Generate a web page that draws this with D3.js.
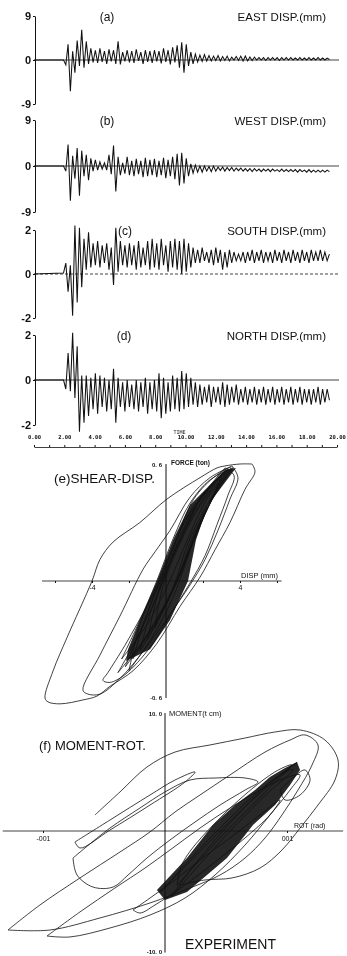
<!DOCTYPE html>
<html>
<head>
<meta charset="utf-8">
<script src="https://cdn.jsdelivr.net/npm/d3@7"></script>
<style>
  body { margin: 0; background: #fff; }
  svg { display: block; font-family: "Liberation Sans", Arial, sans-serif; will-change: transform; }
</style>
</head>
<body>
<svg id="chart" width="347" height="956"></svg>
<script>
// time histories: alternating peak values, one every sampleStep seconds from sampleStart
const sampleStart = 1.95;
const sampleStep = 0.15;

const eastDisp = [
  0.0, -1.0, 3.2, -6.4, 1.8, -2.6, 4.0, -1.2, 6.2, -1.6,
  3.8, -0.8, 2.4, -0.5, 2.0, -0.6, 2.4, -0.4, 1.8, -0.8,
  2.2, -0.3, 2.0, -0.8, 3.8, -0.9, 1.6, -0.3, 2.0, -0.5,
  1.8, -0.6, 2.2, -0.2, 1.6, -0.8, 2.0, -0.4, 1.8, -0.6,
  2.0, -0.3, 1.8, -0.7, 2.4, -0.4, 2.0, -0.9, 2.6, -0.5,
  3.0, -1.6, 3.6, -2.6, 3.2, -1.2, 1.6, -0.8, 1.2, -0.4,
  1.0, -0.3, 1.1, -0.2, 0.9, -0.2, 0.8, -0.1, 0.9, -0.2,
  0.7, -0.1, 0.8, -0.2, 0.6, 0.0, 0.7, -0.1, 0.8, -0.2,
  0.8, -0.2, 0.6, -0.1, 0.6, 0.0, 0.5, 0.0, 0.5, -0.1,
  0.5, 0.0, 0.5, 0.0, 0.5, -0.1, 0.5, 0.0, 0.5, 0.0,
  0.5, 0.0, 0.4, 0.0, 0.5, 0.0, 0.4, 0.0, 0.5, 0.0,
  0.4, 0.0, 0.5, 0.0, 0.4, 0.0, 0.4, 0.1
];

const westDisp = [
  0.0, -1.0, 4.2, -6.8, 2.0, -2.5, 3.5, -5.8, 3.0, -2.0,
  2.2, -2.8, 1.5, -1.0, 1.2, -0.8, 0.8, -0.6, 0.6, -0.8,
  2.2, -1.6, 4.0, -5.0, 1.8, -1.8, 0.6, -1.5, 1.8, -1.8,
  1.0, -2.0, 1.4, -1.6, 1.0, -2.2, 1.6, -2.0, 1.2, -1.8,
  1.4, -2.2, 1.0, -1.8, 1.6, -2.4, 1.2, -2.0, 1.8, -2.6,
  2.4, -3.8, 2.6, -3.4, 1.5, -2.0, 0.4, -1.4, 0.2, -1.2,
  0.0, -1.2, 0.0, -1.0, -0.1, -1.1, 0.0, -1.0, -0.2, -0.9,
  -0.2, -1.0, -0.3, -0.9, -0.3, -1.0, -0.4, -0.9, -0.4, -1.0,
  -0.5, -1.0, -0.5, -1.1, -0.5, -1.0, -0.6, -1.1, -0.6, -1.0,
  -0.6, -1.1, -0.6, -1.0, -0.7, -1.1, -0.6, -1.1, -0.7, -1.1,
  -0.7, -1.1, -0.7, -1.2, -0.7, -1.1, -0.8, -1.2, -0.7, -1.2,
  -0.8, -1.2, -0.8, -1.2, -0.8, -1.2, -0.8, -1.1
];

const southDisp = [
  0.05, 0.5, -0.8, 0.4, -1.9, 2.2, -1.3, 2.1, -0.6, 1.6,
  0.2, 1.9, 0.3, 1.4, 0.4, 1.5, 0.3, 1.3, 0.5, 1.4,
  0.2, 1.2, -0.5, 2.1, 0.1, 1.5, 0.4, 1.3, 0.3, 1.4,
  0.4, 1.3, 0.2, 1.5, 0.3, 1.2, 0.4, 1.5, 0.2, 1.6,
  0.3, 1.4, 0.2, 1.6, 0.4, 1.3, 0.1, 1.5, 0.3, 1.6,
  0.2, 1.5, 0.0, 1.6, 0.1, 1.4, 0.3, 1.2, 0.5, 1.1,
  0.5, 1.2, 0.6, 1.0, 0.5, 1.1, 0.4, 1.2, 0.5, 1.1,
  0.2, 1.0, 0.3, 1.1, 0.5, 1.0, 0.6, 0.9, 0.6, 1.0,
  0.5, 1.0, 0.6, 1.1, 0.5, 1.0, 0.6, 1.1, 0.5, 1.0,
  0.6, 1.0, 0.5, 1.1, 0.6, 1.0, 0.5, 1.1, 0.6, 1.0,
  0.5, 1.1, 0.6, 1.0, 0.5, 1.1, 0.6, 1.0, 0.5, 1.1,
  0.6, 1.0, 0.6, 1.1, 0.6, 1.0, 0.6, 0.9
];

const northDisp = [
  0.0, -0.4, 1.2, -0.5, 2.1, -0.8, 1.5, -2.3, 0.2, -1.9,
  0.2, -1.6, 0.1, -1.3, 0.3, -1.5, 0.2, -1.2, 0.1, -1.4,
  0.0, -1.3, 0.5, -1.9, 0.1, -1.2, -0.1, -1.4, 0.0, -1.2,
  -0.2, -1.3, 0.0, -1.4, -0.1, -1.2, 0.1, -1.5, -0.1, -1.3,
  0.0, -1.4, 0.3, -1.7, 0.1, -1.5, -0.1, -1.4, 0.2, -1.3,
  0.1, -1.4, 0.4, -1.3, 0.3, -1.2, 0.1, -1.1, -0.1, -1.2,
  -0.2, -1.1, -0.3, -1.0, -0.2, -1.2, -0.3, -1.0, -0.3, -1.1,
  -0.1, -1.2, -0.2, -1.1, -0.3, -1.0, -0.2, -1.1, -0.4, -1.0,
  -0.3, -1.1, -0.4, -1.0, -0.3, -1.1, -0.4, -1.0, -0.3, -1.1,
  -0.4, -1.0, -0.3, -1.1, -0.4, -1.0, -0.3, -1.1, -0.4, -1.0,
  -0.3, -1.1, -0.4, -1.0, -0.3, -1.1, -0.4, -1.0, -0.4, -1.1,
  -0.4, -1.0, -0.3, -1.1, -0.4, -1.0, -0.4, -0.9
];

const timeTicks = [0, 1, 2, 3, 4, 5, 6, 7, 8, 9, 10, 11, 12, 13, 14, 15, 16, 17, 18, 19, 20];
const timeLabels = ['0.00', '2.00', '4.00', '6.00', '8.00', '10.00', '12.00', '14.00', '16.00', '18.00', '20.00'];

// (e) shear force (ton) vs displacement (mm)
const shearOuter = [[4.65,0.60],[4.0,0.60],[3.19,0.59],[2.76,0.58],[1.84,0.53],[0.05,0.42],[-1.41,0.30],[-2.86,0.20],[-3.57,0.11],[-4.0,0.0],[-5.35,-0.29],[-6.1,-0.46],[-6.54,-0.60],[-6.38,-0.62],[-5.73,-0.63],[-4.49,-0.61],[-3.73,-0.59],[-3.03,-0.54],[-1.78,-0.46],[-0.49,-0.32],[0.76,-0.13],[1.84,0.02],[2.65,0.16],[3.46,0.30],[4.27,0.47],[4.81,0.56],[4.65,0.60]];
const shearMiddle = [[3.57,0.59],[2.38,0.53],[1.30,0.43],[0.22,0.26],[-0.59,0.15],[-1.24,0.06],[-2.49,-0.18],[-3.57,-0.38],[-4.49,-0.56],[-4.22,-0.58],[-3.57,-0.58],[-2.49,-0.50],[-1.14,-0.35],[0.22,-0.17],[1.30,-0.02],[2.11,0.11],[2.81,0.26],[3.46,0.42],[3.89,0.53],[3.57,0.59]];
const shearInner = [[3.19,0.58],[1.84,0.42],[1.03,0.26],[0.05,0.06],[-0.86,-0.10],[-2.22,-0.33],[-3.14,-0.47],[-3.41,-0.51],[-3.03,-0.52],[-2.22,-0.48],[-0.86,-0.34],[0.32,-0.16],[1.30,-0.01],[2.11,0.13],[2.76,0.29],[3.35,0.44],[3.68,0.54],[3.19,0.58]];
const shearBand = [[3.19,0.57],[1.30,0.39],[0.38,0.21],[-0.49,0.0],[-1.41,-0.20],[-2.05,-0.35],[-2.16,-0.41],[-0.86,-0.35],[0.22,-0.20],[1.19,0.0],[1.62,0.21],[2.27,0.39],[3.78,0.58]];
const shearCoreLoops = [
  [[-2.6,-0.47],[-1.2,-0.30],[0.3,-0.05],[1.3,0.22],[2.6,0.45],[3.6,0.58],[2.8,0.52],[1.6,0.38],[0.6,0.18],[-0.4,-0.06],[-1.6,-0.30],[-2.6,-0.47]],
  [[-2.2,-0.44],[-0.9,-0.26],[0.5,-0.02],[1.5,0.24],[2.8,0.47],[3.4,0.57],[2.5,0.50],[1.2,0.34],[0.2,0.12],[-0.8,-0.12],[-1.5,-0.28],[-2.2,-0.44]],
  [[-1.8,-0.40],[-0.5,-0.20],[0.7,0.02],[1.7,0.27],[2.7,0.46],[3.2,0.56],[2.2,0.46],[1.0,0.30],[0.0,0.08],[-1.0,-0.16],[-1.8,-0.40]],
  [[-1.4,-0.36],[-0.2,-0.16],[0.9,0.06],[1.8,0.29],[2.6,0.45],[3.0,0.54],[2.0,0.44],[0.9,0.26],[-0.1,0.02],[-0.9,-0.18],[-1.4,-0.36]],
  [[-1.0,-0.30],[0.1,-0.10],[1.0,0.10],[1.9,0.30],[2.9,0.52],[2.0,0.42],[0.7,0.20],[-0.3,-0.02],[-1.0,-0.30]],
  [[-2.4,-0.40],[-1.0,-0.22],[0.2,0.00],[1.1,0.20],[2.2,0.42],[3.3,0.56],[2.4,0.52],[1.3,0.40],[0.4,0.22],[-0.5,0.00],[-1.5,-0.22],[-2.4,-0.40]],
  [[-0.6,-0.24],[0.4,-0.04],[1.2,0.14],[2.0,0.32],[2.8,0.50],[1.8,0.38],[0.6,0.16],[-0.2,-0.04],[-0.6,-0.24]],
  [[-2.0,-0.46],[-0.7,-0.28],[0.4,-0.08],[1.4,0.18],[2.4,0.40],[3.5,0.58],[2.7,0.54],[1.5,0.42],[0.5,0.20],[-0.6,-0.04],[-1.4,-0.22],[-2.0,-0.46]]
];
const shearTicks = [-6, -4, -2, 2, 4, 6];

// (f) moment (t cm) vs rotation (rad)
const momentOuter = [[-0.01287,-8.39],[-0.01025,-6.27],[-0.00697,-3.98],[-0.00369,-1.78],[-0.00123,-0.08],[0.00082,1.61],[0.00287,3.05],[0.00533,4.75],[0.0082,6.69],[0.01025,7.71],[0.01148,8.14],[0.01254,7.29],[0.01205,5.59],[0.0109,3.47],[0.00959,1.36],[0.0082,-0.59],[0.00656,-2.29],[0.00451,-3.73],[0.00205,-4.83],[-0.00123,-6.10],[-0.00533,-7.37],[-0.00943,-8.39],[-0.01287,-8.39]];
const momentSecond = [[-0.00967,-8.90],[-0.00697,-6.86],[-0.0041,-4.83],[-0.00164,-3.14],[0.00041,-1.61],[0.00287,0.25],[0.00533,1.95],[0.00779,3.47],[0.00984,4.49],[0.01107,4.75],[0.01025,3.47],[0.00861,1.36],[0.00656,-1.19],[0.0041,-3.73],[0.00164,-5.68],[-0.00123,-7.12],[-0.00451,-8.22],[-0.00779,-8.98],[-0.00967,-8.90]];
const momentSpike = [[-0.00738,-0.93],[-0.00451,0.93],[-0.00123,3.05],[0.00082,4.32],[0.00246,5.0],[0.00164,4.15],[-0.00123,2.2],[-0.00451,0.08],[-0.00697,-1.44],[-0.00738,-0.93]];
const momentFlat = [[-0.00754,-2.29],[-0.00721,-3.73],[-0.0059,-4.75],[-0.00426,-4.75],[-0.00303,-3.73],[-0.00148,-2.29],[0.00041,-0.76],[0.00246,0.76],[0.00451,2.20],[0.00656,3.47],[0.00762,4.15],[0.00656,4.49],[0.0041,4.49],[0.00205,4.32],[0.0,3.31],[-0.00205,1.95],[-0.00451,0.25],[-0.00656,-1.44],[-0.00754,-2.29]];
const momentUpper = [[-0.00574,1.36],[-0.00369,3.31],[-0.00148,5.42],[0.00082,6.69],[0.00369,7.29],[0.00656,7.88],[0.00902,8.39],[0.01107,8.56],[0.01311,7.71],[0.01418,6.02],[0.01393,4.32],[0.01254,2.20],[0.01107,0.25],[0.00959,-1.61],[0.00779,-3.14],[0.00549,-3.98],[0.00328,-4.15],[0.00123,-4.58]];
const momentLower = [[-0.00262,-6.69],[-0.00123,-5.68],[0.00082,-4.15],[0.00287,-2.46],[0.00533,-0.59],[0.00779,1.36],[0.00943,2.63],[0.0086,1.36],[0.00656,-0.59],[0.0041,-2.63],[0.00164,-4.58],[-0.00082,-6.27],[-0.00205,-6.95],[-0.00262,-6.69]];
const momentCurl = [[0.00943,3.47],[0.01066,4.66],[0.01148,5.17],[0.01189,4.32],[0.01107,3.05],[0.00984,2.63],[0.00943,3.47]];
const momentBand = [[-0.00066,-5.0],[0.0018,-2.29],[0.00393,0.51],[0.00574,2.20],[0.00738,3.47],[0.0086,4.58],[0.00984,5.34],[0.01082,5.85],[0.01107,5.17],[0.01025,3.90],[0.00902,2.20],[0.00721,0.51],[0.00508,-2.29],[0.0018,-5.17],[0.0,-5.85]];
const momentCoreLoops = [
  [[-0.0004,-5.2],[0.0035,-0.8],[0.0075,3.2],[0.0108,5.8],[0.0098,5.0],[0.0065,2.0],[0.0028,-1.8],[-0.0004,-5.2]],
  [[0.0005,-5.6],[0.004,-1.5],[0.008,2.8],[0.0105,5.2],[0.0092,4.6],[0.0058,1.2],[0.002,-3.4],[0.0005,-5.6]],
  [[0.001,-4.6],[0.0045,-0.6],[0.0085,3.6],[0.0104,5.6],[0.009,5.0],[0.005,1.6],[0.0015,-2.6],[0.001,-4.6]]
];

const ink = '#111';
const svg = d3.select('#chart');
const axisX = 35;

const timeX = d3.scaleLinear().domain([0, 20]).range([34, 337]);

const panels = [
  { tag: '(a)', title: 'EAST DISP.(mm)', data: eastDisp, limit: 9, range: [104, 16], tagX: 107, dashed: false },
  { tag: '(b)', title: 'WEST DISP.(mm)', data: westDisp, limit: 9, range: [212, 120], tagX: 107, dashed: false },
  { tag: '(c)', title: 'SOUTH DISP.(mm)', data: southDisp, limit: 2, range: [318, 230], tagX: 125, dashed: true },
  { tag: '(d)', title: 'NORTH DISP.(mm)', data: northDisp, limit: 2, range: [425, 335], tagX: 124, dashed: false }
];

function drawHistory(p) {
  const y = d3.scaleLinear().domain([-p.limit, p.limit]).range(p.range);
  const g = svg.append('g');

  const ax = g.append('g')
    .attr('transform', 'translate(' + axisX + ',0)')
    .call(d3.axisLeft(y).tickValues([-p.limit, 0, p.limit]).tickSize(2).tickSizeOuter(0).tickPadding(2)
      .tickFormat(d => String(d)));
  ax.select('.domain').attr('stroke', ink).attr('stroke-width', 1);
  ax.selectAll('line').attr('stroke', ink);
  ax.selectAll('text').attr('fill', ink).style('font-size', '11px').style('font-weight', 'bold');

  g.append('line')
    .attr('x1', axisX).attr('x2', 339)
    .attr('y1', y(0)).attr('y2', y(0))
    .attr('stroke', ink).attr('stroke-width', 0.8)
    .attr('stroke-dasharray', p.dashed ? '3,2' : null);

  const pts = [[0, 0]].concat(p.data.map((v, i) => [sampleStart + i * sampleStep, v]));
  g.append('path')
    .attr('d', d3.line().x(d => timeX(d[0])).y(d => y(d[1]))(pts))
    .attr('fill', 'none').attr('stroke', ink).attr('stroke-width', 1.05);

  g.append('text').attr('x', p.tagX).attr('y', y(p.limit) + 5)
    .attr('text-anchor', 'middle').style('font-size', '12px').attr('fill', ink).text(p.tag);
  g.append('text').attr('x', 326).attr('y', y(p.limit) + 5)
    .attr('text-anchor', 'end').style('font-size', '11.5px').attr('fill', ink).text(p.title);
}

panels.forEach(drawHistory);

// time axis
const tAx = svg.append('g')
  .attr('transform', 'translate(0,447)')
  .call(d3.axisTop(timeX).tickValues(timeTicks).tickSize(2).tickSizeOuter(0).tickPadding(6)
    .tickFormat(d => d % 2 === 0 ? timeLabels[d / 2] : ''));
tAx.select('.domain').attr('stroke', ink).attr('stroke-width', 0.8);
tAx.selectAll('line').attr('stroke', ink);
tAx.selectAll('text').attr('fill', ink)
  .style('font-family', '"DejaVu Sans Mono", monospace').style('font-size', '5.5px').style('font-weight', 'bold');
svg.append('text').attr('x', timeX(9.6)).attr('y', 434).attr('text-anchor', 'middle')
  .style('font-family', '"DejaVu Sans Mono", monospace').style('font-size', '5px').attr('fill', ink).text('TIME');

// (e) shear - displacement
const ex = d3.scaleLinear().domain([-4, 4]).range([92, 240]);
const ey = d3.scaleLinear().domain([-0.6, 0.6]).range([698, 464]);
const eLine = d3.line().x(d => ex(d[0])).y(d => ey(d[1]));

const eg = svg.append('g');
eg.append('path').attr('d', eLine.curve(d3.curveLinear)(shearBand)).attr('fill', ink).attr('fill-opacity', 0.9);
eLine.curve(d3.curveCatmullRom);
[shearOuter, shearMiddle, shearInner].concat(shearCoreLoops).forEach(loop => {
  eg.append('path').attr('d', eLine(loop)).attr('fill', 'none').attr('stroke', ink).attr('stroke-width', 0.8);
});

eg.append('line').attr('x1', ex(-6.7)).attr('x2', ex(6.25)).attr('y1', ey(0)).attr('y2', ey(0))
  .attr('stroke', ink).attr('stroke-width', 0.8);
eg.append('line').attr('x1', ex(0)).attr('x2', ex(0)).attr('y1', ey(0.6)).attr('y2', ey(-0.6))
  .attr('stroke', ink).attr('stroke-width', 1);
const eAx = eg.append('g').attr('transform', 'translate(0,' + ey(0) + ')')
  .call(d3.axisBottom(ex).tickValues(shearTicks).tickSize(2).tickSizeOuter(0).tickPadding(2)
    .tickFormat(d => Math.abs(d) === 4 ? String(d) : ''));
eAx.select('.domain').remove();
eAx.selectAll('line').attr('stroke', ink);
eAx.selectAll('text').attr('fill', ink).style('font-size', '7px');

eg.append('text').attr('x', ex(0) - 4).attr('y', ey(0.6) + 3).attr('text-anchor', 'end')
  .style('font-size', '6px').style('font-weight', 'bold').attr('fill', ink).text('0. 6');
eg.append('text').attr('x', ex(0) - 4).attr('y', ey(-0.6) + 2).attr('text-anchor', 'end')
  .style('font-size', '6px').style('font-weight', 'bold').attr('fill', ink).text('-0. 6');
eg.append('text').attr('x', ex(0) + 5).attr('y', ey(0.6) + 1)
  .style('font-size', '6.5px').style('font-weight', 'bold').attr('fill', ink).text('FORCE (ton)');
eg.append('text').attr('x', ex(4) + 1).attr('y', ey(0) - 3)
  .style('font-size', '7.5px').attr('fill', ink).text('DISP (mm)');
eg.append('text').attr('x', 54).attr('y', 483)
  .style('font-size', '13.5px').attr('fill', ink).text('(e)SHEAR-DISP.');

// (f) moment - rotation
const fx = d3.scaleLinear().domain([-0.01, 0.01]).range([43, 287]);
const fy = d3.scaleLinear().domain([-10, 10]).range([949, 713]);
const fLine = d3.line().x(d => fx(d[0])).y(d => fy(d[1]));

const fg = svg.append('g');
fg.append('path').attr('d', fLine.curve(d3.curveLinear)(momentBand)).attr('fill', ink).attr('fill-opacity', 0.9);
fLine.curve(d3.curveCatmullRom);
[momentOuter, momentSecond, momentSpike, momentFlat, momentUpper, momentLower, momentCurl].concat(momentCoreLoops).forEach(loop => {
  fg.append('path').attr('d', fLine(loop)).attr('fill', 'none').attr('stroke', ink).attr('stroke-width', 0.8);
});

fg.append('line').attr('x1', fx(-0.0133)).attr('x2', fx(0.0146)).attr('y1', fy(0)).attr('y2', fy(0))
  .attr('stroke', ink).attr('stroke-width', 0.8);
fg.append('line').attr('x1', fx(0)).attr('x2', fx(0)).attr('y1', fy(10)).attr('y2', fy(-10.3))
  .attr('stroke', ink).attr('stroke-width', 1);
const fAx = fg.append('g').attr('transform', 'translate(0,' + fy(0) + ')')
  .call(d3.axisBottom(fx).tickValues([-0.01, 0.01]).tickSize(2).tickSizeOuter(0).tickPadding(3)
    .tickFormat(d => d < 0 ? '-001' : '001'));
fAx.select('.domain').remove();
fAx.selectAll('line').attr('stroke', ink);
fAx.selectAll('text').attr('fill', ink).style('font-size', '7px');

fg.append('text').attr('x', fx(0) - 3).attr('y', fy(10) + 3).attr('text-anchor', 'end')
  .style('font-size', '6px').style('font-weight', 'bold').attr('fill', ink).text('10. 0');
fg.append('text').attr('x', fx(0) - 3).attr('y', fy(-10) + 5).attr('text-anchor', 'end')
  .style('font-size', '6px').style('font-weight', 'bold').attr('fill', ink).text('-10. 0');
fg.append('text').attr('x', fx(0) + 4).attr('y', fy(10) + 3)
  .style('font-size', '7.5px').attr('fill', ink).text('MOMENT(t cm)');
fg.append('text').attr('x', 294).attr('y', fy(0) - 3)
  .style('font-size', '7px').attr('fill', ink).text('ROT (rad)');
fg.append('text').attr('x', 39).attr('y', 750)
  .style('font-size', '13px').attr('fill', ink).text('(f) MOMENT-ROT.');
fg.append('text').attr('x', 185).attr('y', 949)
  .style('font-size', '14px').attr('fill', ink).text('EXPERIMENT');
</script>
</body>
</html>
